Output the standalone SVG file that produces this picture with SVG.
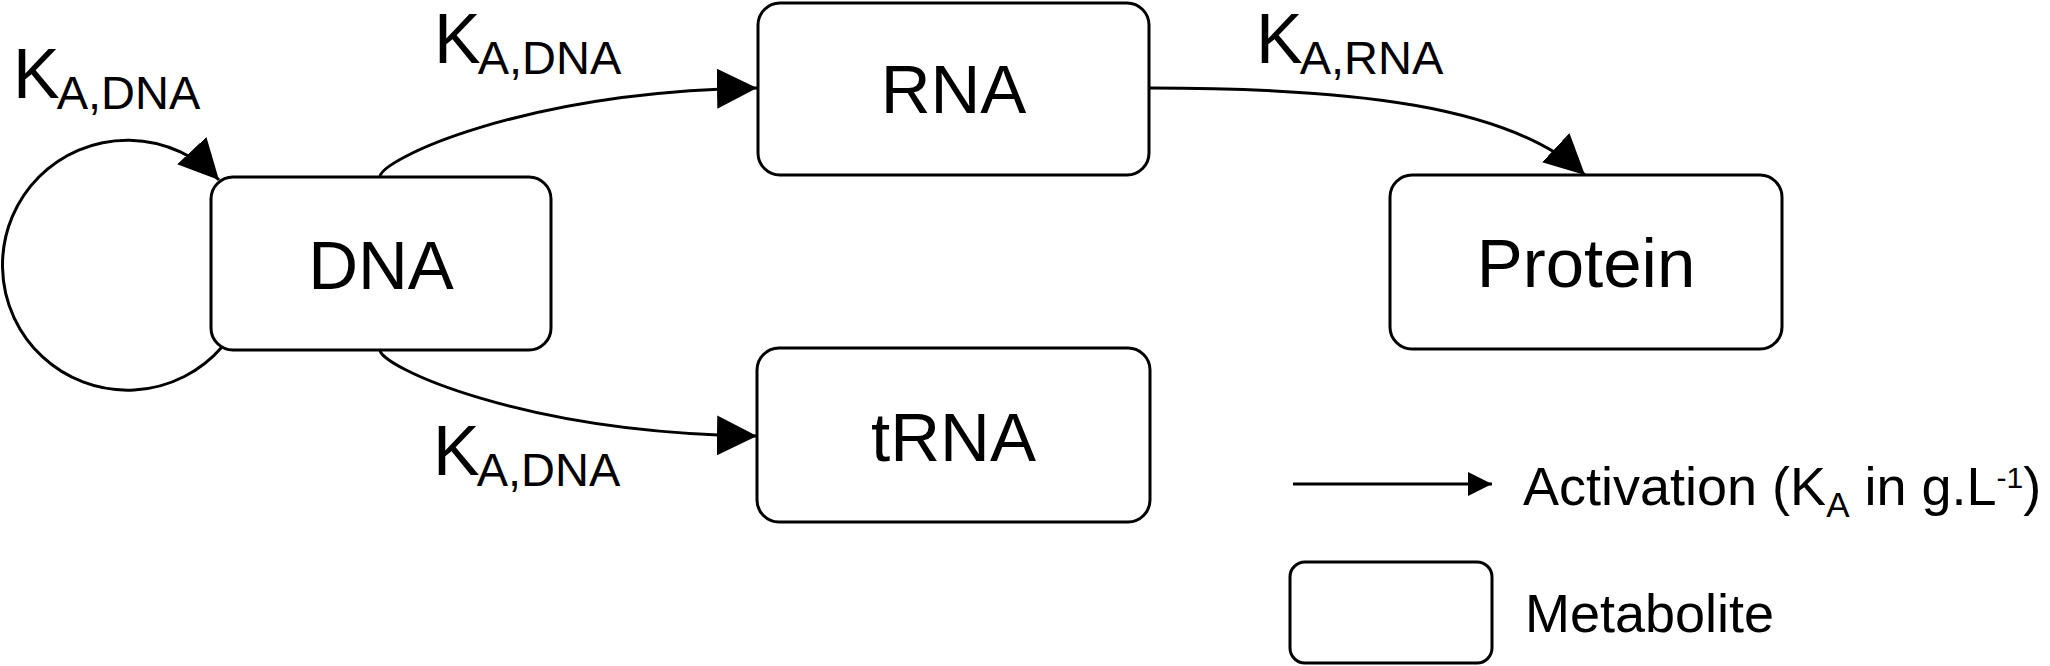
<svg xmlns="http://www.w3.org/2000/svg" width="2050" height="666" viewBox="0 0 2050 666">
<style>
.box{fill:#fff;stroke:#000;stroke-width:3}
.edge{fill:none;stroke:#000;stroke-width:3}
.lbl{font-family:"Liberation Sans",Arial,sans-serif;fill:#000}
.node{font-size:69px;text-anchor:middle}
.k{font-size:70px}
.sub{font-size:47px}
.leg{font-size:54px}
</style>
<defs>
<marker id="arr" viewBox="0 0 40 40" refX="40" refY="20" markerWidth="40" markerHeight="40" markerUnits="userSpaceOnUse" orient="auto">
<path d="M0,0 L40,20 L0,40 Z" fill="#000"/>
</marker>
<marker id="arrS" viewBox="0 0 24 24" refX="24" refY="12" markerWidth="24" markerHeight="24" markerUnits="userSpaceOnUse" orient="auto">
<path d="M0,0 L24,12 L0,24 Z" fill="#000"/>
</marker>
</defs>
<rect width="2050" height="666" fill="#fff"/>
<g id="connectors">
<path class="edge" d="M222,347 A125,125 0 1 1 219,180" marker-end="url(#arr)"/>
<path class="edge" d="M380,177 C380,160 520,92 757,88" marker-end="url(#arr)"/>
<path class="edge" d="M380,350 C380,366 520,433 757,436" marker-end="url(#arr)"/>
<path class="edge" d="M1150,88 C1350,88 1510,105 1585,175" marker-end="url(#arr)"/>
</g>
<g id="edge-labels">
<text class="lbl k" x="13" y="98">K<tspan class="sub" dx="-3" dy="11">A,DNA</tspan></text>
<text class="lbl k" x="434" y="63">K<tspan class="sub" dx="-3" dy="11">A,DNA</tspan></text>
<text class="lbl k" x="1256" y="63">K<tspan class="sub" dx="-3" dy="11">A,RNA</tspan></text>
<text class="lbl k" x="433" y="475">K<tspan class="sub" dx="-3" dy="11">A,DNA</tspan></text>
</g>
<g id="node-dna">
<rect class="box" x="211" y="177" width="340" height="173" rx="22"/>
<text class="lbl node" x="381" y="289">DNA</text>
</g>
<g id="node-rna">
<rect class="box" x="758" y="3" width="391" height="172" rx="22"/>
<text class="lbl node" x="953.5" y="113">RNA</text>
</g>
<g id="node-protein">
<rect class="box" x="1390" y="175" width="392" height="174" rx="22"/>
<text class="lbl node" x="1586" y="287">Protein</text>
</g>
<g id="node-trna">
<rect class="box" x="757" y="348" width="393" height="174" rx="22"/>
<text class="lbl node" x="953.5" y="461">tRNA</text>
</g>
<g id="legend">
<path class="edge" d="M1293,484 L1492,484" marker-end="url(#arrS)"/>
<text class="lbl leg" x="1523" y="505">Activation (K<tspan font-size="35" dy="12">A</tspan><tspan dy="-12"> in g.L</tspan><tspan font-size="30" dy="-17">-1</tspan><tspan dy="17">)</tspan></text>
<rect class="box" x="1290" y="562" width="202" height="101" rx="15"/>
<text class="lbl leg" x="1525" y="632">Metabolite</text>
</g>
</svg>
